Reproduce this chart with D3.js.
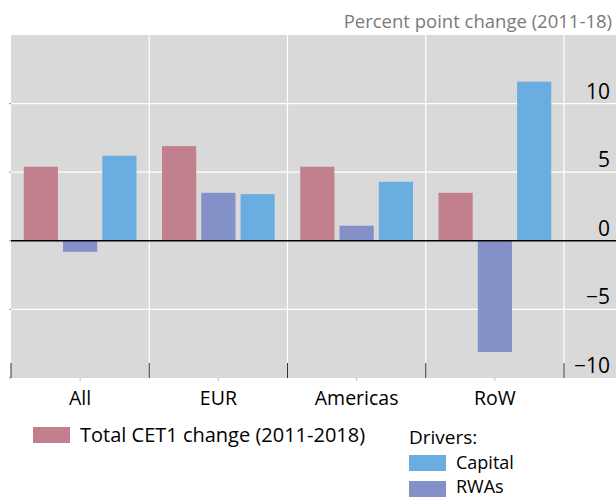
<!DOCTYPE html>
<html>
<head>
<meta charset="utf-8">
<script src="https://cdn.jsdelivr.net/npm/d3@7"></script>
<style>
  body { margin: 0; background: #fff; }
  svg { display: block; font-family: "Open Sans", sans-serif; }
</style>
</head>
<body>
<div id="chart"></div>
<script>
// data
const regions = ["All", "EUR", "Americas", "RoW"];
const seriesKeys = ["total", "rwas", "capital"];
const totalChange = [5.4, 6.9, 5.4, 3.5];
const rwasChange = [-0.8, 3.5, 1.1, -8.1];
const capitalChange = [6.2, 3.4, 4.3, 11.6];
const yTicks = [-10, -5, 0, 5, 10];

const colors = { total: "#c27f8e", rwas: "#8490c8", capital: "#6aade0" };

const rows = regions.map((r, i) => ({
  region: r,
  total: totalChange[i],
  rwas: rwasChange[i],
  capital: capitalChange[i]
}));

const W = 616, H = 498;
const plot = { left: 11, right: 616, top: 35, bottom: 378 };
const catRight = 564;

const svg = d3.select("#chart").append("svg")
  .attr("width", W).attr("height", H);

const x0 = d3.scaleBand().domain(regions).range([plot.left, catRight]).padding(0);
const x1 = d3.scaleBand().domain(seriesKeys).range([0, x0.bandwidth()])
  .paddingInner(0.13).paddingOuter(0.325);
const y = d3.scaleLinear().domain([-10, 15]).range([plot.bottom, plot.top]);

// background
svg.append("rect")
  .attr("x", plot.left).attr("y", plot.top)
  .attr("width", plot.right - plot.left).attr("height", plot.bottom - plot.top)
  .attr("fill", "#d9d9d9");

// horizontal gridlines
svg.append("g").selectAll("line").data(yTicks.filter(d => d !== 0 && d !== -10))
  .join("line")
  .attr("x1", plot.left).attr("x2", plot.right)
  .attr("y1", d => y(d)).attr("y2", d => y(d))
  .attr("stroke", "#fff").attr("stroke-width", 1.2);

// vertical gridlines at category boundaries
const bounds = regions.slice(1).map(r => x0(r)).concat([catRight]);
svg.append("g").selectAll("line").data(bounds)
  .join("line")
  .attr("x1", d => d).attr("x2", d => d)
  .attr("y1", plot.top).attr("y2", plot.bottom)
  .attr("stroke", "#fff").attr("stroke-width", 1.2);

// bars
const groups = svg.append("g").selectAll("g").data(rows).join("g")
  .attr("transform", d => `translate(${x0(d.region)},0)`);
groups.selectAll("rect")
  .data(d => seriesKeys.map(k => ({ key: k, value: d[k] })))
  .join("rect")
  .attr("x", d => x1(d.key))
  .attr("width", x1.bandwidth())
  .attr("y", d => y(Math.max(0, d.value)))
  .attr("height", d => Math.abs(y(d.value) - y(0)))
  .attr("fill", d => colors[d.key]);

// zero line
svg.append("line")
  .attr("x1", plot.left).attr("x2", plot.right)
  .attr("y1", y(0)).attr("y2", y(0))
  .attr("stroke", "#000").attr("stroke-width", 1.5);

// bottom axis: boundary ticks going up, minor ticks at centres
const bt = svg.append("g");
bt.selectAll("line.b").data([plot.left].concat(bounds))
  .join("line").attr("class", "b")
  .attr("x1", d => d).attr("x2", d => d)
  .attr("y1", plot.bottom - 15).attr("y2", plot.bottom)
  .attr("stroke", "#333").attr("stroke-width", 1);
bt.selectAll("line.c").data(regions)
  .join("line").attr("class", "c")
  .attr("x1", d => x0(d) + x0.bandwidth() / 2).attr("x2", d => x0(d) + x0.bandwidth() / 2)
  .attr("y1", plot.bottom).attr("y2", plot.bottom + 3)
  .attr("stroke", "#bbb");
bt.selectAll("text").data(regions)
  .join("text")
  .attr("x", d => x0(d) + x0.bandwidth() / 2)
  .attr("y", 405)
  .attr("text-anchor", "middle")
  .attr("font-size", 19.5)
  .attr("fill", "#000")
  .text(d => d);

// y tick labels on the right, above gridlines
svg.append("g").selectAll("text").data(yTicks)
  .join("text")
  .attr("x", 610)
  .attr("y", d => y(d) - 5)
  .attr("text-anchor", "end")
  .attr("font-size", 21)
  .attr("fill", "#000")
  .text(d => d < 0 ? "\u2212" + Math.abs(d) : d);

// small left ticks
svg.append("g").selectAll("line").data(yTicks)
  .join("line")
  .attr("x1", plot.left - 2).attr("x2", plot.left)
  .attr("y1", d => y(d)).attr("y2", d => y(d))
  .attr("stroke", "#999");

// unit label
svg.append("text")
  .attr("x", 612).attr("y", 28)
  .attr("text-anchor", "end")
  .attr("font-size", 18.5)
  .attr("fill", "#7a7a7a")
  .text("Percent point change (2011-18)");

// legend
const legend = svg.append("g").attr("font-size", 20).attr("fill", "#000");
legend.append("rect").attr("x", 33).attr("y", 427).attr("width", 37).attr("height", 16)
  .attr("fill", colors.total);
legend.append("text").attr("x", 80).attr("y", 442).text("Total CET1 change (2011-2018)");
legend.append("text").attr("x", 409).attr("y", 444).attr("font-size", 19).text("Drivers:");
legend.append("rect").attr("x", 409).attr("y", 455).attr("width", 37).attr("height", 16)
  .attr("fill", colors.capital);
legend.append("text").attr("x", 456).attr("y", 468.5).attr("font-size", 18).text("Capital");
legend.append("rect").attr("x", 409).attr("y", 481).attr("width", 37).attr("height", 16)
  .attr("fill", colors.rwas);
legend.append("text").attr("x", 456).attr("y", 492.5).attr("font-size", 18).text("RWAs");
</script>
</body>
</html>
